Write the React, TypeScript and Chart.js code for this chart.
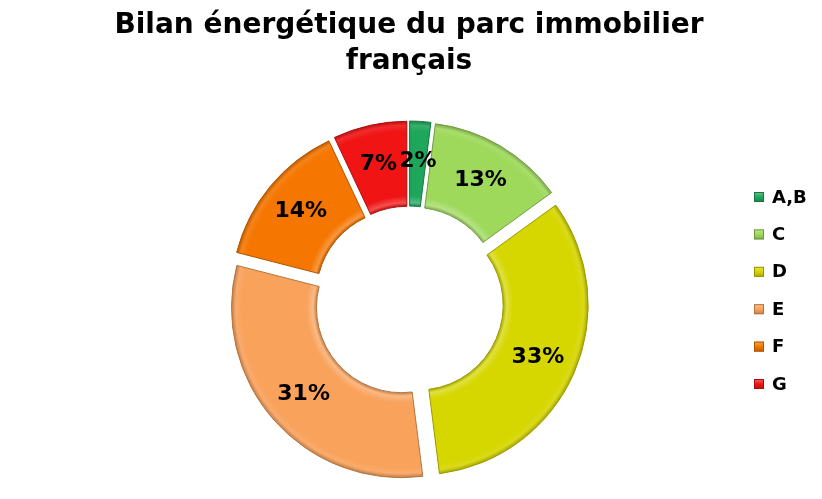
import React, { useEffect, useRef } from 'react';
import { Chart, registerables } from 'chart.js';

Chart.register(...registerables);

const TITLE_LINES = ['Bilan énergétique du parc immobilier', 'français'];
const CATEGORIES = ['A,B', 'C', 'D', 'E', 'F', 'G'];
const SHARES = [2, 13, 33, 31, 14, 7];
const COLORS = ['#1ea65a', '#9ed95c', '#d6d600', '#f9a25c', '#f57600', '#f01414'];

const FONT = '"DejaVu Sans", Verdana, sans-serif';
const EXPLODE = 10;

function hexToRgb(hex: string) {
  const h = hex.replace('#', '');
  return [parseInt(h.slice(0, 2), 16), parseInt(h.slice(2, 4), 16), parseInt(h.slice(4, 6), 16)];
}
function shade(hex: string, f: number) {
  const [r, g, b] = hexToRgb(hex);
  if (f < 1) return `rgb(${Math.round(r * f)},${Math.round(g * f)},${Math.round(b * f)})`;
  const t = f - 1;
  return `rgb(${Math.round(r + (255 - r) * t)},${Math.round(g + (255 - g) * t)},${Math.round(b + (255 - b) * t)})`;
}

// Draw each library arc element shifted outward (exploded doughnut)
const explodePlugin = {
  id: 'explode',
  beforeDatasetDraw(chart: any, args: any) {
    const ctx = chart.ctx;
    args.meta.data.forEach((arc: any) => {
      const a = (arc.startAngle + arc.endAngle) / 2;
      ctx.save();
      ctx.translate(Math.cos(a) * EXPLODE, Math.sin(a) * EXPLODE);
      arc.draw(ctx);
      ctx.restore();
    });
    return false;
  },
};

const labelPlugin = {
  id: 'sliceLabels',
  afterDatasetsDraw(chart: any) {
    const ctx = chart.ctx;
    const meta = chart.getDatasetMeta(0);
    const total = SHARES.reduce((a, b) => a + b, 0);
    ctx.save();
    ctx.font = `bold 22px ${FONT}`;
    ctx.fillStyle = '#000';
    ctx.textAlign = 'center';
    ctx.textBaseline = 'middle';
    meta.data.forEach((arc: any, i: number) => {
      const p = arc.getProps(['x', 'y', 'startAngle', 'endAngle', 'innerRadius', 'outerRadius'], true);
      const a = (p.startAngle + p.endAngle) / 2;
      const r = (p.innerRadius + p.outerRadius) / 2 + EXPLODE + 3;
      const pct = Math.round((SHARES[i] / total) * 100);
      ctx.fillText(pct + '%', p.x + Math.cos(a) * r, p.y + Math.sin(a) * r);
    });
    ctx.restore();
  },
};

const legendPlugin = {
  id: 'sideLegend',
  afterDraw(chart: any) {
    const ctx = chart.ctx;
    ctx.save();
    ctx.font = `bold 18px ${FONT}`;
    ctx.textAlign = 'left';
    ctx.textBaseline = 'middle';
    CATEGORIES.forEach((lab, i) => {
      const y = 197 + i * 37.4;
      const g = ctx.createLinearGradient(0, y - 5, 0, y + 5);
      g.addColorStop(0, shade(COLORS[i], 1.35));
      g.addColorStop(0.5, COLORS[i]);
      g.addColorStop(1, shade(COLORS[i], 0.8));
      ctx.fillStyle = g;
      ctx.fillRect(754, y - 5, 10, 10);
      ctx.strokeStyle = shade(COLORS[i], 0.7);
      ctx.lineWidth = 1;
      ctx.strokeRect(754.5, y - 4.5, 9, 9);
      ctx.fillStyle = '#000';
      ctx.fillText(lab, 772, y + 1);
    });
    ctx.restore();
  },
};

export default function App() {
  const ref = useRef<HTMLCanvasElement | null>(null);
  useEffect(() => {
    document.body.style.margin = '0';
    const canvas = ref.current;
    if (!canvas) return;
    const chart = new Chart(canvas, {
      type: 'doughnut',
      data: {
        labels: CATEGORIES,
        datasets: [
          {
            data: SHARES,
            backgroundColor: (c: any) => {
              const base = COLORS[c.dataIndex];
              const chart = c.chart;
              const area = chart.chartArea;
              if (!area) return base;
              const ctrl: any = chart.getDatasetMeta(0).controller;
              const inner = ctrl.innerRadius || 85;
              const outer = ctrl.outerRadius || 170;
              const cx = (area.left + area.right) / 2;
              const cy = (area.top + area.bottom) / 2;
              const g = chart.ctx.createRadialGradient(cx, cy, inner, cx, cy, outer);
              g.addColorStop(0, shade(base, 0.8));
              g.addColorStop(0.04, shade(base, 1.25));
              g.addColorStop(0.12, base);
              g.addColorStop(0.88, base);
              g.addColorStop(0.95, shade(base, 1.1));
              g.addColorStop(1, shade(base, 0.78));
              return g;
            },
            borderColor: COLORS.map((c) => shade(c, 0.72)),
            borderWidth: 1,
            radius: 170,
          } as any,
        ],
      },
      options: {
        responsive: false,
        animation: false,
        events: [],
        cutout: '50%',
        layout: { padding: { left: 0, right: 4, top: 0, bottom: 0 } },
        plugins: {
          legend: { display: false },
          tooltip: { enabled: false },
          title: {
            display: true,
            text: TITLE_LINES,
            color: '#000',
            font: { family: FONT, size: 28, weight: 'bold', lineHeight: 1.27 },
            padding: { top: 8, bottom: 24 },
          },
        },
      } as any,
      plugins: [explodePlugin, labelPlugin, legendPlugin],
    });
    return () => chart.destroy();
  }, []);
  return <canvas ref={ref} width={822} height={499} style={{ display: 'block' }} />;
}
